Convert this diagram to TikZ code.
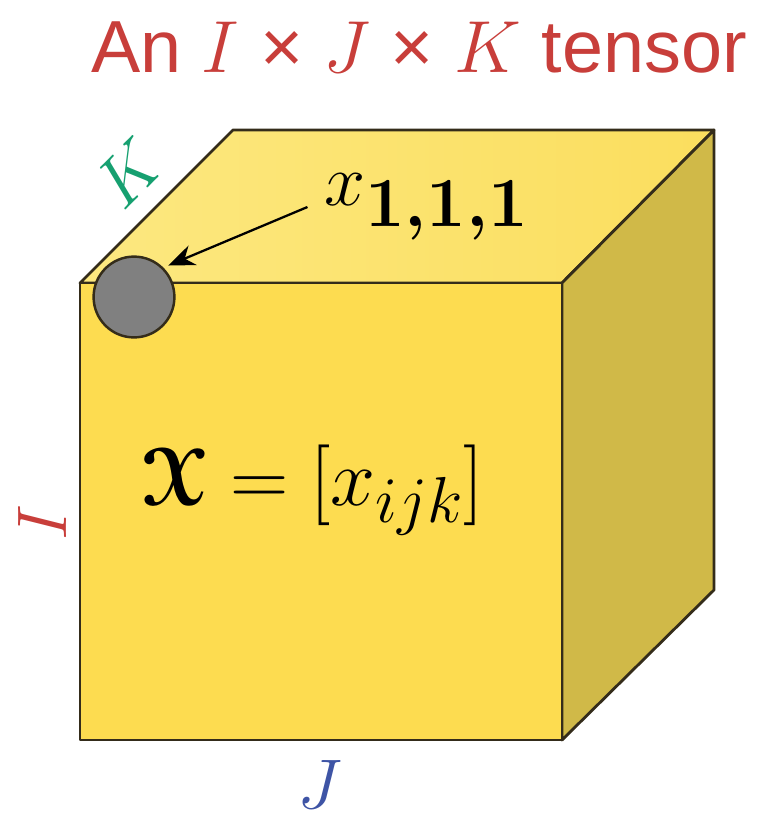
\RequirePackage{fix-cm}
\documentclass[tikz,border=0pt]{standalone}
\usepackage{fontspec}
\newfontfamily\titlesans{Liberation Sans}
\usepackage{amsmath}
\usepackage[mathscr]{euscript}
\usepackage{bm}
\DeclareMathSizes{46}{46}{37}{28}
\DeclareMathSizes{42}{42}{40}{30}
\usepackage{xcolor}
\definecolor{titlered}{RGB}{200,62,58}
\definecolor{kgreen}{RGB}{22,160,112}
\definecolor{jblue}{RGB}{62,84,165}
\definecolor{edge}{RGB}{52,44,26}
\definecolor{frontface}{RGB}{253,220,80}
\definecolor{topleft}{RGB}{252,232,128}
\definecolor{topright}{RGB}{251,222,94}
\definecolor{sideface}{RGB}{208,185,72}
\definecolor{entry}{RGB}{128,128,128}
\usepackage{tikz}
\usetikzlibrary{arrows.meta,positioning,calc}

\tikzset{
    face/.style={draw=edge, line width=1.6pt, line join=round},
    dimlabel/.style={font=\fontsize{40}{44}\selectfont},
    mathlabel/.style={font=\fontsize{42}{46}\selectfont, text=black}
}

\begin{document}
\begin{tikzpicture}[x=0.02cm, y=-0.02cm]
        \useasboundingbox (0,0) rectangle (763,819);

        % Corners of the cube
        \coordinate (ftl) at (80,283);
        \coordinate (ftr) at (562,283);
        \coordinate (fbr) at (562,740);
        \coordinate (fbl) at (80,740);
        \coordinate (btl) at (233,130);
        \coordinate (btr) at (714,130);
        \coordinate (bbr) at (714,590);

        % Faces
        \draw[face, left color=topleft, right color=topright] (ftl) -- (btl) -- (btr) -- (ftr) -- cycle;
        \draw[face, fill=sideface] (ftr) -- (btr) -- (bbr) -- (fbr) -- cycle;
        \draw[face, fill=frontface] (ftl) -- (ftr) -- (fbr) -- (fbl) -- cycle;

        % Title
        \node[font=\titlesans\fontsize{42}{46}\selectfont, text=titlered, anchor=base] (title) at (419,72) {An $I$ × $J$ × $K$ tensor};

        % Dimension labels
        \node[dimlabel, text=kgreen, rotate=45] (klab) at (129,173) {$K$};
        \node[dimlabel, text=titlered, rotate=90] (ilab) at (42,523) {$I$};
        \node[dimlabel, text=jblue] (jlab) at (320,784) {$J$};

        % First entry
        \node[circle, draw=edge, line width=1.4pt, fill=entry, minimum size=46, inner sep=0pt] (x111) at (134,297) {};
        \node[mathlabel, anchor=west] (x111lab) at (318,207) {$x_{\textbf{1,1,1}}$};
        \draw[-{Stealth[length=15pt,width=12pt]}, line width=1.3pt, shorten >=3pt] ([xshift=-6]x111lab.west) -- (x111.north east);

        % Tensor
        \node[mathlabel, font=\fontsize{46}{50}\selectfont] (tensor) at (313,490) {$\bm{\mathscr{X}} = [x_{ijk}]$};
    \end{tikzpicture}
\end{document}
